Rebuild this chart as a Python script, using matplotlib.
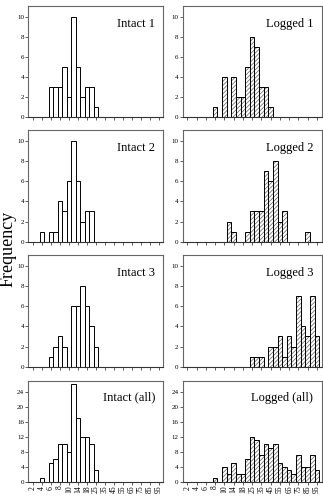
import matplotlib
matplotlib.use("Agg")
import matplotlib.pyplot as plt

plt.rcParams['font.family'] = ['Liberation Serif', 'DejaVu Serif']
plt.rcParams['hatch.linewidth'] = 0.6

# diameter classes (29 bins), labels shown on every other bin
bin_pos = list(range(1, 30))
tick_pos = [1, 3, 5, 7, 9, 11, 13, 15, 17, 19, 21, 23, 25, 27, 29]
tick_labels = ['2', '4', '6', '8', '10', '14', '18', '25', '35', '45',
               '55', '65', '75', '85', '95']

# counts per bin (bins 1..29)
intact1 = [0, 0, 0, 0, 3, 3, 3, 5, 2, 10, 5, 2, 3, 3, 1,
           0, 0, 0, 0, 0, 0, 0, 0, 0, 0, 0, 0, 0, 0]
intact2 = [0, 0, 1, 0, 1, 1, 4, 3, 6, 10, 6, 2, 3, 3, 0,
           0, 0, 0, 0, 0, 0, 0, 0, 0, 0, 0, 0, 0, 0]
intact3 = [0, 0, 0, 0, 1, 2, 3, 2, 0, 6, 6, 8, 6, 4, 2,
           0, 0, 0, 0, 0, 0, 0, 0, 0, 0, 0, 0, 0, 0]
intact_all = [0, 0, 1, 0, 5, 6, 10, 10, 8, 26, 17, 12, 12, 10, 3,
              0, 0, 0, 0, 0, 0, 0, 0, 0, 0, 0, 0, 0, 0]
logged1 = [0, 0, 0, 0, 0, 0, 1, 0, 4, 0, 4, 2, 2, 5, 8,
           7, 3, 3, 1, 0, 0, 0, 0, 0, 0, 0, 0, 0, 0]
logged2 = [0, 0, 0, 0, 0, 0, 0, 0, 0, 2, 1, 0, 0, 1, 3,
           3, 3, 7, 6, 8, 2, 3, 0, 0, 0, 0, 1, 0, 0]
logged3 = [0, 0, 0, 0, 0, 0, 0, 0, 0, 0, 0, 0, 0, 0, 1,
           1, 1, 0, 2, 2, 3, 1, 3, 2, 7, 4, 3, 7, 3]
logged_all = [0, 0, 0, 0, 0, 0, 1, 0, 4, 2, 5, 2, 2, 6, 12,
              11, 7, 10, 9, 10, 5, 4, 3, 2, 7, 4, 4, 7, 3]

panels = [
    [("Intact 1", intact1), ("Logged 1", logged1)],
    [("Intact 2", intact2), ("Logged 2", logged2)],
    [("Intact 3", intact3), ("Logged 3", logged3)],
    [("Intact (all)", intact_all), ("Logged (all)", logged_all)],
]

fig = plt.figure(figsize=(3.23, 4.98), dpi=100)

col_x = [(0.0876, 0.418), (0.5656, 0.430)]
row_y = [(0.7657, 0.2229), (0.5147, 0.2243), (0.2637, 0.2243), (0.0331, 0.2018)]
spine_col = '#666666'

for r in range(4):
    for c in range(2):
        name, counts = panels[r][c]
        x0, w = col_x[c]
        y0, h = row_y[r]
        ax = fig.add_axes([x0, y0, w, h])
        if c == 0:
            ax.bar(bin_pos, counts, width=1.0, color='white',
                   edgecolor='black', linewidth=0.7)
        else:
            ax.bar(bin_pos, counts, width=1.0, color='white',
                   edgecolor='#777777', hatch='////////', linewidth=0)
            ax.bar(bin_pos, counts, width=1.0, fill=False,
                   edgecolor='black', linewidth=0.7)
        ax.set_xlim(0, 30)
        if r < 3:
            ax.set_ylim(0, 11.1)
            ax.set_yticks([0, 2, 4, 6, 8, 10])
        else:
            ax.set_ylim(0, 26.9)
            ax.set_yticks([0, 4, 8, 12, 16, 20, 24])
        ax.set_xticks(tick_pos)
        if r == 3:
            ax.set_xticklabels(tick_labels, rotation=90, fontsize=5.5)
        else:
            ax.set_xticklabels([])
        ax.tick_params(axis='both', length=2, width=0.6, pad=1,
                       color='#444444')
        ax.tick_params(axis='y', labelsize=5)
        for s in ax.spines.values():
            s.set_color(spine_col)
            s.set_linewidth(0.8)
        ax.spines['bottom'].set_color('#333333')
        ax.text(0.94, 0.835, name, transform=ax.transAxes, ha='right',
                va='center', fontsize=9)

fig.text(0.0, 0.5, "Frequency", rotation=90, ha='left', va='center',
         fontsize=13)

fig.savefig("out.png", dpi=100)
